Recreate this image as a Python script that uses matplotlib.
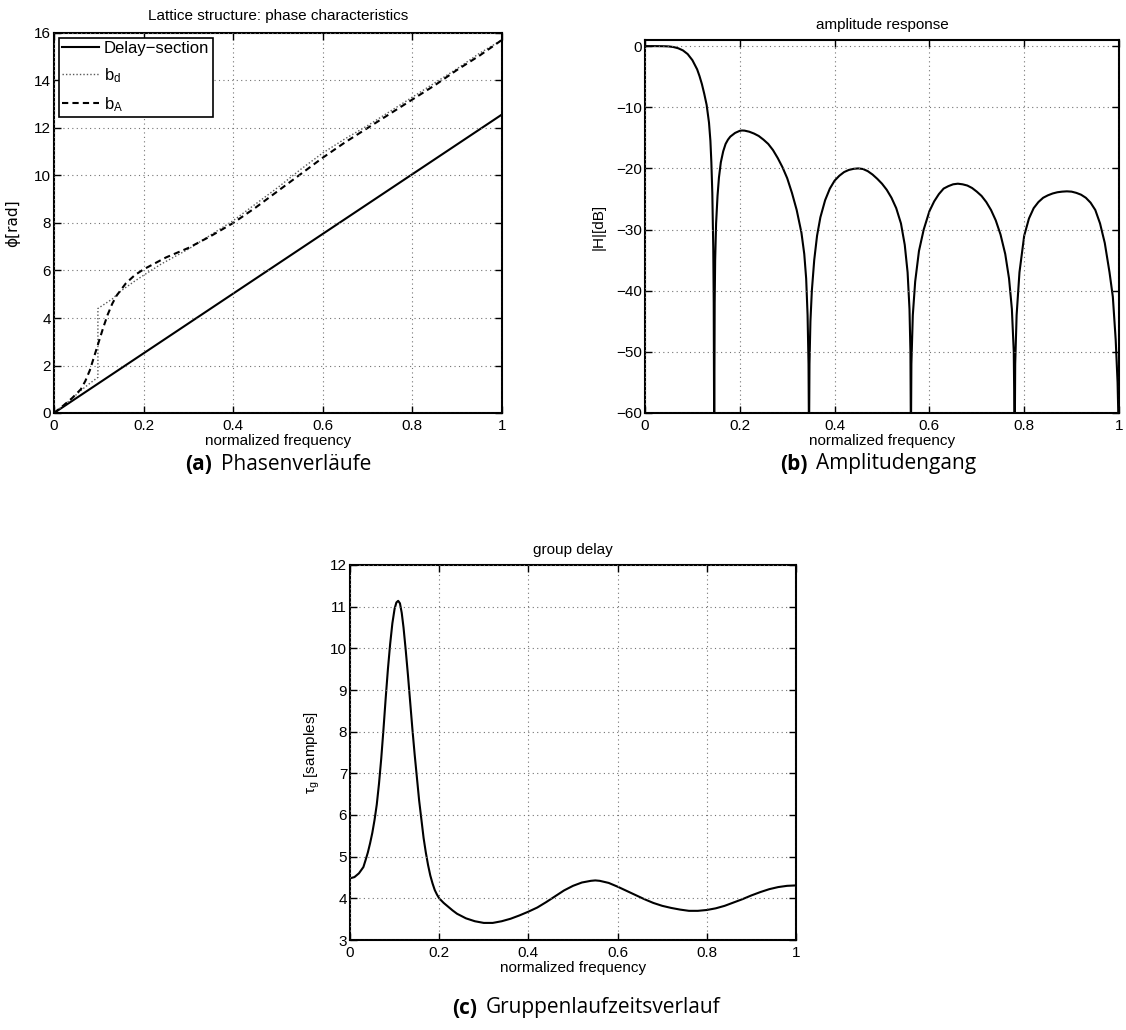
import matplotlib
matplotlib.use("Agg")
import matplotlib.pyplot as plt

W, H = 1126, 1030
AX_FONT = ["Liberation Sans", "DejaVu Sans"]
CAP_FONT = ["Open Sans", "DejaVu Sans"]
plt.rcParams['font.family'] = AX_FONT
plt.rcParams['mathtext.fontset'] = 'custom'
plt.rcParams['mathtext.rm'] = 'Liberation Sans'
plt.rcParams['mathtext.it'] = 'Liberation Sans:italic'
plt.rcParams['mathtext.bf'] = 'Liberation Sans:bold'

# ---------------- data ----------------
# (a) phase characteristics
f_delay = [0.0, 1.0]
phi_delay = [0.0, 12.57]

f_bd = [0.0, 0.02, 0.04, 0.06, 0.08, 0.098, 0.098, 0.11, 0.13, 0.15, 0.18, 0.2, 0.24,
        0.3, 0.35, 0.4, 0.45, 0.5, 0.55, 0.6, 0.65, 0.7, 0.75, 0.8, 0.85, 0.9, 0.95, 1.0]
phi_bd = [0.0, 0.3, 0.6, 0.95, 1.25, 1.5, 4.4, 4.55, 4.8, 5.15, 5.55, 5.8, 6.28,
          6.9, 7.5, 8.1, 8.8, 9.5, 10.25, 10.95, 11.55, 12.1, 12.7, 13.3, 13.9, 14.5, 15.15, 15.71]

f_bA = [0.0, 0.02, 0.04, 0.06, 0.07, 0.08, 0.09, 0.1, 0.11, 0.12, 0.13, 0.14, 0.15, 0.16,
        0.18, 0.2, 0.25, 0.3, 0.35, 0.4, 0.45, 0.5, 0.55, 0.6, 0.65, 0.7, 0.75, 0.8,
        0.85, 0.9, 0.95, 1.0]
phi_bA = [0.0, 0.3, 0.62, 1.0, 1.35, 1.8, 2.4, 3.0, 3.6, 4.15, 4.6, 4.95, 5.2, 5.45,
          5.8, 6.05, 6.55, 6.95, 7.45, 8.0, 8.65, 9.35, 10.05, 10.75, 11.4, 12.0, 12.6, 13.2,
          13.8, 14.45, 15.05, 15.71]

# (b) amplitude response [dB]
f_amp = [0.0, 0.02, 0.04, 0.05, 0.06, 0.07, 0.08, 0.09, 0.10, 0.11, 0.115, 0.12, 0.125,
         0.13, 0.135, 0.138, 0.14, 0.142, 0.144, 0.145, 0.146,
         0.147, 0.148, 0.150, 0.153, 0.156, 0.16, 0.165, 0.17, 0.175, 0.18, 0.19, 0.2,
         0.205, 0.21, 0.22, 0.23, 0.24, 0.25, 0.26, 0.27, 0.28, 0.29, 0.30, 0.31, 0.32,
         0.33, 0.336, 0.34, 0.343, 0.345, 0.346,
         0.347, 0.349, 0.352, 0.357, 0.363, 0.37, 0.38, 0.39, 0.40, 0.41, 0.42, 0.43,
         0.44, 0.45, 0.46, 0.47, 0.48, 0.49, 0.50, 0.51, 0.52, 0.53, 0.54, 0.548, 0.554,
         0.558, 0.560, 0.561,
         0.562, 0.565, 0.57, 0.578, 0.588, 0.60, 0.61, 0.62, 0.63, 0.64, 0.65, 0.66,
         0.67, 0.68, 0.69, 0.70, 0.71, 0.72, 0.73, 0.74, 0.75, 0.76, 0.768, 0.774,
         0.778, 0.780,
         0.781, 0.784, 0.79, 0.80, 0.81, 0.82, 0.83, 0.84, 0.85, 0.86, 0.87, 0.88, 0.89,
         0.90, 0.91, 0.92, 0.93, 0.94, 0.95, 0.96, 0.97, 0.98, 0.987, 0.993, 0.997, 1.0]
amp_db = [0.0, 0.0, -0.02, -0.05, -0.15, -0.35, -0.7, -1.3, -2.3, -3.8, -4.9, -6.2, -7.8,
          -9.6, -12.5, -15.5, -19, -24, -33, -42, -65,
          -42, -35, -29, -24.5, -21.5, -19, -17.2, -16.0, -15.3, -14.8, -14.2, -13.85,
          -13.8, -13.82, -14.0, -14.3, -14.7, -15.3, -16.0, -17.0, -18.3, -19.8, -21.6,
          -24.0, -26.8, -30.5, -34, -38, -44, -52, -65,
          -52, -45, -40, -35, -31, -28, -25.2, -23.3, -22.0, -21.2, -20.6, -20.25,
          -20.07, -20.0, -20.1, -20.45, -21.0, -21.7, -22.5, -23.5, -24.8, -26.5, -29,
          -32.5, -37, -43, -50, -65,
          -52, -44, -38.5, -33.5, -30, -27, -25.4, -24.2, -23.3, -22.9, -22.6, -22.5,
          -22.6, -22.8, -23.2, -23.8, -24.5, -25.5, -26.8, -28.5, -30.8, -34, -38,
          -43, -50, -65,
          -52, -44, -37, -31, -28.2, -26.5, -25.5, -24.8, -24.4, -24.1, -23.9, -23.8,
          -23.75, -23.8, -24.0, -24.3, -24.8, -25.6, -26.8, -29.0, -32.2, -37, -41,
          -48, -55, -65]

# (c) group delay [samples]
f_gd = [0.0, 0.01, 0.02, 0.03, 0.035, 0.04, 0.045, 0.05, 0.055, 0.06, 0.065, 0.07, 0.075,
        0.08, 0.085, 0.09, 0.095, 0.1, 0.104, 0.108, 0.112, 0.116, 0.12, 0.125, 0.13,
        0.135, 0.14, 0.145, 0.15, 0.155, 0.16, 0.165, 0.17, 0.175, 0.18, 0.185, 0.19,
        0.195, 0.2, 0.21, 0.22, 0.23, 0.24, 0.26, 0.28, 0.3, 0.32, 0.34, 0.36, 0.38,
        0.4, 0.42, 0.44, 0.46, 0.48, 0.5, 0.52, 0.54, 0.55, 0.56, 0.58, 0.6, 0.62, 0.64,
        0.66, 0.68, 0.7, 0.72, 0.74, 0.76, 0.78, 0.8, 0.82, 0.84, 0.86, 0.88, 0.9, 0.92,
        0.94, 0.96, 0.98, 1.0]
tau_g = [4.48, 4.51, 4.6, 4.75, 4.92, 5.1, 5.32, 5.57, 5.88, 6.25, 6.75, 7.35, 8.05,
         8.8, 9.5, 10.1, 10.6, 10.95, 11.1, 11.14, 11.08, 10.85, 10.5, 9.95, 9.35,
         8.7, 8.05, 7.45, 6.9, 6.35, 5.9, 5.45, 5.1, 4.8, 4.55, 4.36, 4.2,
         4.09, 4.0, 3.89, 3.8, 3.71, 3.63, 3.52, 3.45, 3.41, 3.41, 3.45, 3.51, 3.59,
         3.68, 3.78, 3.91, 4.05, 4.19, 4.3, 4.38, 4.42, 4.43, 4.42, 4.37, 4.28, 4.18, 4.08,
         3.98, 3.89, 3.82, 3.77, 3.73, 3.70, 3.70, 3.72, 3.76, 3.82, 3.9, 3.98, 4.07, 4.15,
         4.22, 4.27, 4.3, 4.31]

x_ticks = [0, 0.2, 0.4, 0.6, 0.8, 1]
x_ticklabels = ['0', '0.2', '0.4', '0.6', '0.8', '1']

# ---------------- figure ----------------
fig = plt.figure(figsize=(W / 100, H / 100), dpi=100)


def px_axes(l, t, r, b):
    return fig.add_axes([l / W, 1 - b / H, (r - l) / W, (b - t) / H])


def style(ax):
    for s in ax.spines.values():
        s.set_linewidth(1.5)
    ax.tick_params(direction='in', top=True, right=True, length=5, width=1,
                   labelsize=11, pad=4)
    ax.tick_params(axis='y', pad=2)
    ax.grid(True, linestyle=(0, (1, 3)), color='0.45', linewidth=0.8)
    ax.set_axisbelow(False)
    ax.set_xticks(x_ticks)
    ax.set_xticklabels(x_ticklabels)
    ax.set_xlim(0, 1)


# (a)
axa = px_axes(54, 33, 502, 413)
axa.plot(f_delay, phi_delay, color='black', lw=1.5, label='Delay\u2212section')
axa.plot(f_bd, phi_bd, color='0.35', lw=1.0, linestyle=(0, (1, 1.5)), label=r'$\mathregular{b_d}$')
axa.plot(f_bA, phi_bA, color='black', lw=1.5, linestyle=(0, (3, 2)), label=r'$\mathregular{b_A}$')
style(axa)
axa.set_ylim(0, 16)
axa.set_yticks([0, 2, 4, 6, 8, 10, 12, 14, 16])
axa.set_title('Lattice structure: phase characteristics', fontsize=11, pad=9)
axa.set_xlabel('normalized frequency', fontsize=11, labelpad=1)
axa.set_ylabel('\u03d5[rad]', fontsize=11, family=['DejaVu Sans'], labelpad=10)
leg = axa.legend(loc='upper left', fontsize=12, fancybox=False, framealpha=1,
                 edgecolor='black', handlelength=2.2, handletextpad=0.3,
                 labelspacing=0.6, borderaxespad=0.3, borderpad=0.2)
leg.get_frame().set_linewidth(1.2)

# (b)
axb = px_axes(645, 40, 1119, 413)
axb.plot(f_amp, amp_db, color='black', lw=1.5)
style(axb)
axb.set_ylim(-60, 1)
axb.set_yticks([0, -10, -20, -30, -40, -50, -60])
axb.set_title('amplitude response', fontsize=11, pad=8)
axb.set_xlabel('normalized frequency', fontsize=11, labelpad=1)
axb.set_ylabel('|H|[dB]', fontsize=11, labelpad=8)

# (c)
axc = px_axes(350, 565, 796, 940)
axc.plot(f_gd, tau_g, color='black', lw=1.5)
style(axc)
axc.set_ylim(3, 12)
axc.set_yticks(range(3, 13))
axc.set_title('group delay', fontsize=11, pad=8)
axc.set_xlabel('normalized frequency', fontsize=11, labelpad=1)
axc.set_ylabel(r'$\mathregular{\tau_g}$ [samples]', fontsize=11, labelpad=6)

# captions
renderer = fig.canvas.get_renderer()


def caption(cx, cy, tag, text):
    t1 = fig.text(0, 0, tag, fontsize=15, fontweight='bold', family=CAP_FONT, va='center', ha='left')
    t2 = fig.text(0, 0, text, fontsize=15, family=CAP_FONT, va='center', ha='left')
    w1 = t1.get_window_extent(renderer).width
    w2 = t2.get_window_extent(renderer).width
    gap = 9
    x0 = cx - (w1 + gap + w2) / 2
    t1.set_position((x0 / W, 1 - cy / H))
    t2.set_position(((x0 + w1 + gap) / W, 1 - cy / H))


caption(278, 464, '(a)', 'Phasenverläufe')
caption(878, 464, '(b)', 'Amplitudengang')
caption(586, 1008, '(c)', 'Gruppenlaufzeitsverlauf')

fig.savefig('out.png', dpi=100)
